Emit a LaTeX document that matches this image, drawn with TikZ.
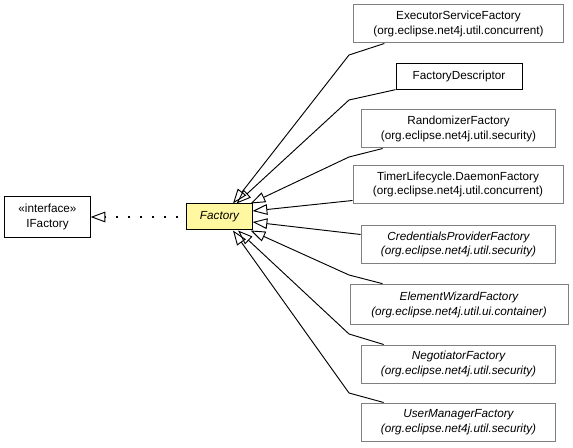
\documentclass[tikz,border=0pt]{standalone}
\usepackage{fontspec}
\setmainfont{Liberation Sans}
\usepackage{tikz}
\usetikzlibrary{arrows.meta, positioning, calc}
\definecolor{uml_yellow}{HTML}{FFF8A0}
\definecolor{uml_gray}{HTML}{808080}
\tikzset{
  umlbox/.style={rectangle,draw=black,line width=0.75pt,fill=white,align=center,inner sep=0pt,font=\fontsize{8.8}{11.2}\selectfont},
  umlclass/.style={umlbox,draw=uml_gray},
  umlabstract/.style={umlclass,font=\fontsize{8.8}{11.2}\selectfont\itshape},
  umlfocus/.style={umlbox,fill=uml_yellow,font=\fontsize{8.8}{11.2}\selectfont\itshape},
  extends/.style={line width=0.7pt,black,-{Triangle[open,length=11pt,width=8pt,line width=0.7pt]}},
  implements/.style={extends,line width=1.5pt,dash pattern=on 1.5pt off 7.5pt,dash phase=3pt},
}
\begin{document}
\begin{tikzpicture}[x=0.75pt,y=-0.75pt]
	    \useasboundingbox (0,0) rectangle (573,448);
	    \node[umlbox,minimum width=64pt,minimum height=31pt] (IFactory) at (47.5,217) {\guillemotleft interface\guillemotright\\IFactory};
	    \node[umlfocus,minimum width=49pt,minimum height=19.5pt] (Factory) at (219.5,217) {Factory};
	    % subclasses
	    \node[umlclass,minimum width=157pt,minimum height=28.5pt] (Executor) at (458.5,24) {ExecutorServiceFactory\\(org.eclipse.net4j.util.concurrent)};
	    \node[umlbox,minimum width=94.5pt,minimum height=19pt] (Descriptor) at (459,76.5) {FactoryDescriptor};
	    \node[umlclass,minimum width=146pt,minimum height=28.5pt] (Randomizer) at (458.5,129) {RandomizerFactory\\(org.eclipse.net4j.util.security)};
	    \node[umlclass,minimum width=157.5pt,minimum height=28pt] (Daemon) at (458,184.5) {TimerLifecycle.DaemonFactory\\(org.eclipse.net4j.util.concurrent)};
	    \node[umlabstract,minimum width=146pt,minimum height=28pt] (Credentials) at (458.5,244.5) {CredentialsProviderFactory\\(org.eclipse.net4j.util.security)};
	    \node[umlabstract,minimum width=163.5pt,minimum height=30.5pt] (Wizard) at (459,304.5) {ElementWizardFactory\\(org.eclipse.net4j.util.ui.container)};
	    \node[umlabstract,minimum width=146pt,minimum height=28.5pt] (Negotiator) at (458.5,364) {NegotiatorFactory\\(org.eclipse.net4j.util.security)};
	    \node[umlabstract,minimum width=146pt,minimum height=28.5pt] (UserManager) at (458.5,422) {UserManagerFactory\\(org.eclipse.net4j.util.security)};
	    % bends
	    \coordinate (b1) at (349,55);
	    \coordinate (b2) at (349,100);
	    \coordinate (b3) at (349,157);
	    \coordinate (b6) at (349,275);
	    \coordinate (b7) at (349,334);
	    \coordinate (b8) at (349,393);
	    % relations
	    \draw[implements] (Factory) -- (IFactory);
	    \draw[extends] ($(Executor.south west)+(31,0)$) -- (b1) -- ($(Factory.north)+(13.5,0)$);
	    \draw[extends] ($(Descriptor.south west)+(0,0)$) -- (b2) -- ($(Factory.north)+(17,0)$);
	    \draw[extends] ($(Randomizer.south west)+(22,0)$) -- (b3) -- ($(Factory.north east)+(-2,0)$);
	    \draw[extends] ($(Daemon.west)+(0,16)$) -- ($(Factory.east)+(0,-6)$);
	    \draw[extends] ($(Credentials.west)+(0,-10)$) -- ($(Factory.east)+(0,5)$);
	    \draw[extends] ($(Wizard.north west)+(33,0)$) -- (b6) -- ($(Factory.south east)+(-2,0)$);
	    \draw[extends] ($(Negotiator.north west)+(23,0)$) -- (b7) -- ($(Factory.south)+(18.5,0)$);
	    \draw[extends] ($(UserManager.north west)+(23,0)$) -- (b8) -- ($(Factory.south)+(13.5,0)$);
	\end{tikzpicture}
\end{document}
